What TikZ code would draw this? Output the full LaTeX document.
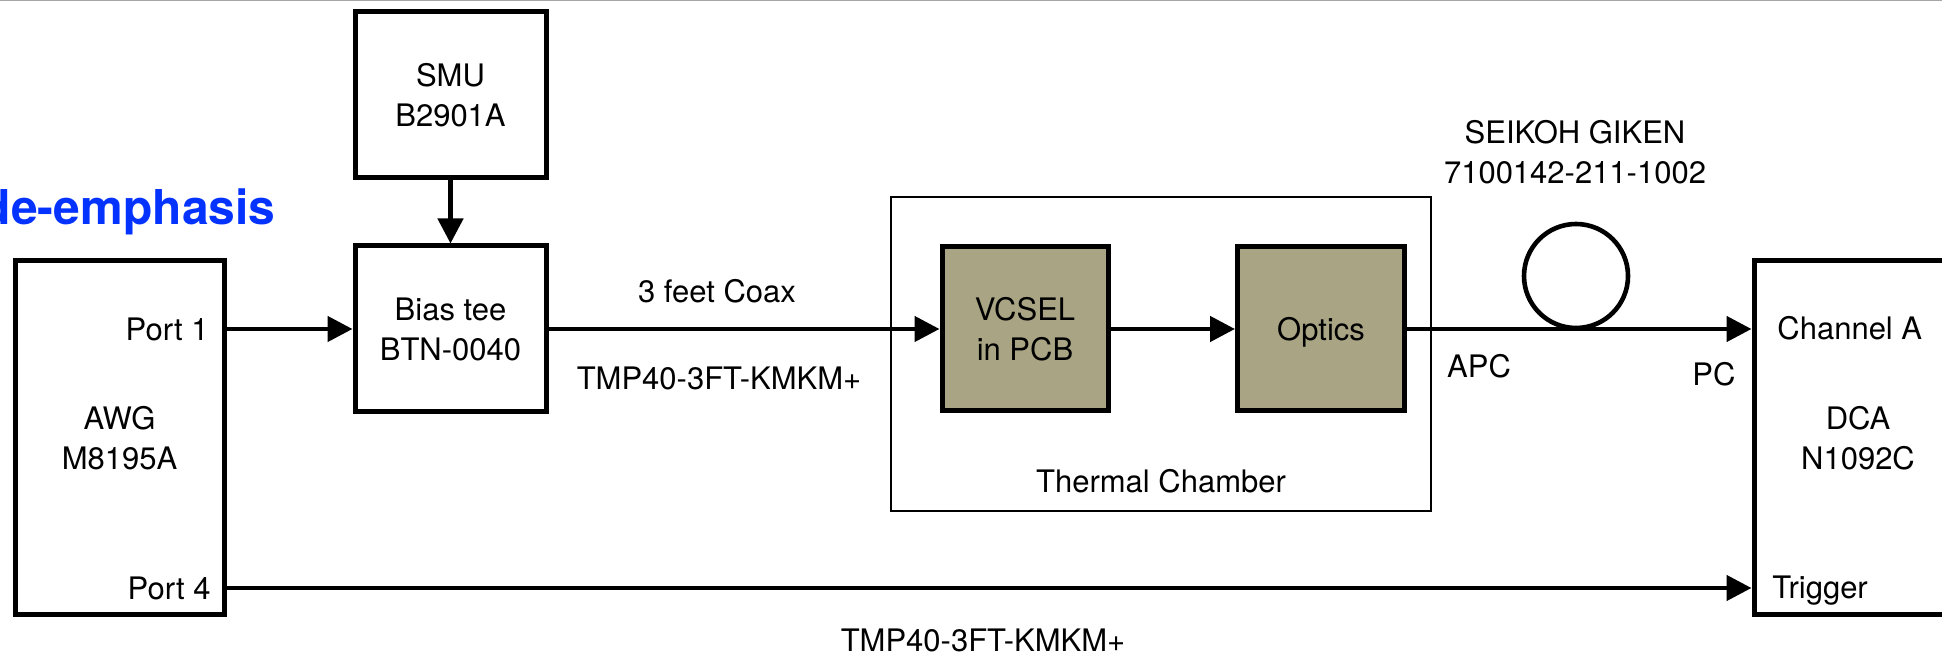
\documentclass[tikz,border=0pt]{standalone}
\usepackage{fontspec}
\setmainfont{TeX Gyre Heros}
\usetikzlibrary{arrows.meta}
\definecolor{olivebox}{RGB}{169,164,132}
\definecolor{deblue}{RGB}{4,51,255}
\tikzset{
  lbl/.style={inner sep=0pt, font=\fontsize{15.5}{20}\selectfont, align=center},
  blk/.style={draw, line width=2.5pt, inner sep=0pt, lbl},
  dev/.style={blk, fill=olivebox},
  chamber/.style={draw, line width=0.75pt, inner sep=0pt},
  arr/.style={line width=2.3pt, -{Triangle[length=12.5pt,width=12.5pt]}},
}
\begin{document}
\begin{tikzpicture}[x=0.5pt,y=-0.5pt]
\useasboundingbox (0,0) rectangle (1942,656);
\draw[gray!70, line width=0.75pt] (0,0.75) -- (1942,0.75);

% title fragment
\node[anchor=base east, inner sep=0pt, text=deblue, font=\fontsize{24}{28}\selectfont\bfseries] (title) at (276,225) {de-emphasis};

% blocks
\node[blk, minimum width=95.5pt, minimum height=83pt] (smu) at (450.5,95) {SMU\\B2901A};
\node[blk, minimum width=95.5pt, minimum height=83pt] (bias) at (450.5,329) {Bias tee\\BTN-0040};
\node[blk, minimum width=104.5pt, minimum height=177pt] (awg) at (119.5,438) {AWG\\M8195A};
\node[blk, minimum width=104pt, minimum height=177pt] (dca) at (1858,438) {DCA\\N1092C};
\node[chamber, minimum width=270pt, minimum height=157pt] (ch) at (1161,354) {};
\node[dev, minimum width=83pt, minimum height=82pt] (vcsel) at (1025,329) {VCSEL\\in PCB};
\node[dev, minimum width=83.5pt, minimum height=82pt, text depth=0pt] (optics) at (1321,329) {Optics};
\node[draw, circle, line width=2.3pt, minimum size=52pt, inner sep=0pt] (loop) at (1576,276) {};

% labels
\node[lbl, anchor=east] (port1) at (209,329) {Port 1};
\node[lbl, anchor=east] (port4) at (211,588) {Port 4};
\node[lbl, anchor=base west] (cha) at (1777,340) {Channel A};
\node[lbl, anchor=base west] (trg) at (1772,599) {Trigger};
\node[lbl] (coax) at (717,291) {3 feet Coax};
\node[lbl] (tmp1) at (719,378) {TMP40-3FT-KMKM+};
\node[lbl] (tmp2) at (983,640) {TMP40-3FT-KMKM+};
\node[lbl] (chlbl) at (1161,481) {Thermal Chamber};
\node[lbl] (seik) at (1575,152.5) {SEIKOH GIKEN\\7100142-211-1002};
\node[lbl] (apc) at (1479,366) {APC};
\node[lbl] (pc) at (1714,374) {PC};

% connectors
\coordinate (p1) at (awg.east |- bias);
\coordinate (p4) at (awg.east |- 0,588);
\draw[arr] (smu) -- (bias);
\draw[arr] (p1) -- (bias);
\draw[arr] (bias) -- (vcsel);
\draw[arr] (vcsel) -- (optics);
\draw[arr] (optics) -- (optics -| dca.west);
\draw[arr] (p4) -- (p4 -| dca.west);
\end{tikzpicture}
\end{document}
